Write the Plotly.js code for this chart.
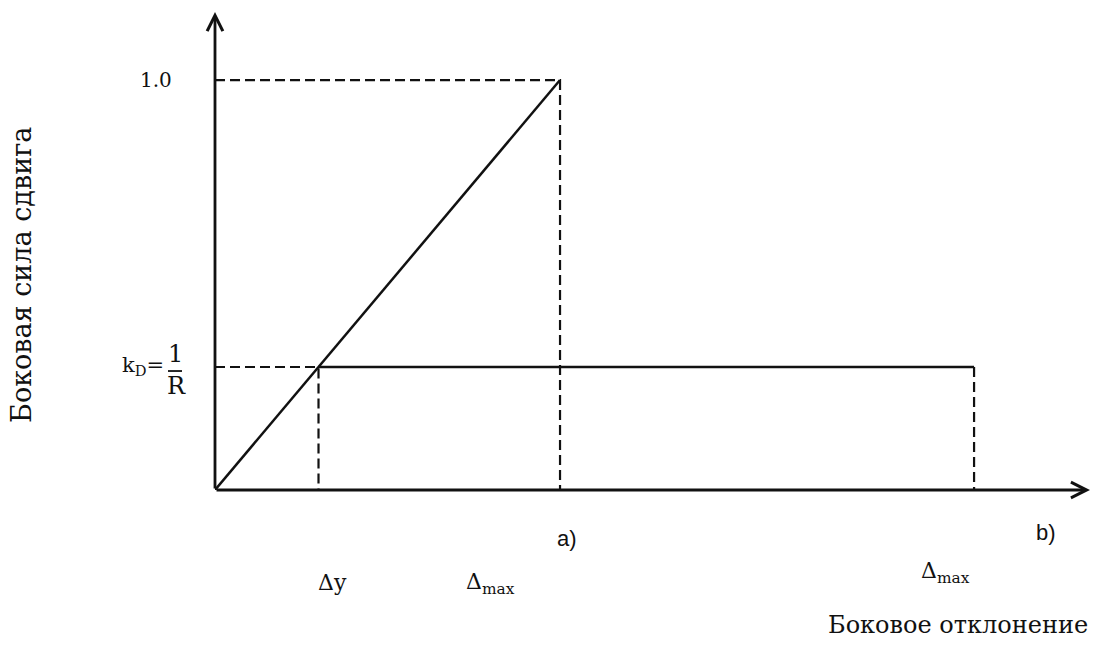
<!DOCTYPE html>
<html>
<head>
<meta charset="utf-8">
<script src="https://cdn.plot.ly/plotly-3.0.1.min.js"></script>
<style>
  html, body { margin: 0; padding: 0; background: #fff; }
  #chart { width: 1096px; height: 649px; }
</style>
</head>
<body>
<div id="chart"></div>
<script>
// lateral shear force vs lateral deflection, two characteristics a) and b)

// force levels (y): kD = 1/R and full force 1.0
const forceLevels = [0.3, 1.0];
// deflections (x): Δy, Δmax for a), Δmax for b)
const deflections = [0.3, 1.0, 2.2];
const deflLabels = ['Δy', 'Δ<sub>max</sub>', 'Δ<sub>max</sub>'];
const caseLabels = ['a)', 'b)'];

// characteristic a): linear rise up to Δmax
const curveAx = [0, 1.0];
const curveAy = [0, 1.0];
// characteristic b): constant force kD from Δy to Δmax
const curveBx = [0.3, 2.2];
const curveBy = [0.3, 0.3];

// axis extents (where the arrows end)
const xEnd = 2.536;
const yEnd = 1.166;

const serif = 'DejaVu Serif, Liberation Serif, serif';
const sans = 'Liberation Sans, Arial, sans-serif';
const ink = '#111';
const dashed = { color: ink, width: 2.2, dash: '10px,5px' };
const solid = { color: ink, width: 2.5 };

const [kD, fMax] = forceLevels;
const [dY, dMaxA, dMaxB] = deflections;

const traces = [
  // guides to 1.0 and to Δmax a)
  { x: [0, dMaxA, dMaxA], y: [fMax, fMax, 0], mode: 'lines', line: dashed },
  // guide along kD up to Δy and down to axis
  { x: [0, dY, dY], y: [kD, kD, 0], mode: 'lines', line: dashed },
  // drop from end of b) to axis
  { x: [dMaxB, dMaxB], y: [kD, 0], mode: 'lines', line: dashed },
  { x: curveAx, y: curveAy, mode: 'lines', line: solid },
  { x: curveBx, y: curveBy, mode: 'lines', line: solid }
];

const txt = (size, family) => ({ size, family: family || serif, color: ink });

const arrowAxis = (x, y) => ({
  x, y, ax: 0, ay: 0, axref: 'x', ayref: 'y', xref: 'x', yref: 'y',
  text: '', showarrow: true, arrowhead: 5, arrowsize: 1.1, arrowwidth: 2.8,
  arrowcolor: ink, standoff: 0
});

const annotations = [
  // axes with open arrowheads
  arrowAxis(xEnd, 0),
  arrowAxis(0, yEnd),
  // y levels
  { x: 0, y: fMax, xref: 'x', yref: 'y', text: '1.0', showarrow: false,
    xanchor: 'right', xshift: -41, font: txt(20) },
  { x: 0, y: kD, xref: 'x', yref: 'y', text: 'k<sub>D</sub>=', showarrow: false,
    xanchor: 'right', xshift: -49, yshift: 1, font: txt(21) },
  { x: 0, y: kD, xref: 'x', yref: 'y', text: '1', showarrow: false,
    xshift: -40, yshift: 13, font: txt(24) },
  { x: 0, y: kD, xref: 'x', yref: 'y', text: 'R', showarrow: false,
    xshift: -39, yshift: -19, font: txt(24) },
  // deflection labels
  { x: dY, y: 0, xref: 'x', yref: 'y', text: deflLabels[0], showarrow: false,
    xshift: 14, yshift: -92, font: txt(22) },
  { x: dMaxA, y: 0, xref: 'x', yref: 'y', text: deflLabels[1], showarrow: false,
    xshift: -70, yshift: -93, font: txt(22) },
  { x: dMaxB, y: 0, xref: 'x', yref: 'y', text: deflLabels[2], showarrow: false,
    xshift: -29, yshift: -82, font: txt(22) },
  // case labels
  { x: dMaxA, y: 0, xref: 'x', yref: 'y', text: caseLabels[0], showarrow: false,
    xshift: 7, yshift: -48, font: txt(22, sans) },
  { x: dMaxB, y: 0, xref: 'x', yref: 'y', text: caseLabels[1], showarrow: false,
    xshift: 72, yshift: -42, font: txt(22, sans) },
  // axis titles
  { x: 0, y: 0.45, xref: 'paper', yref: 'paper', text: 'Боковая сила сдвига', showarrow: false,
    textangle: -90, xanchor: 'center', yanchor: 'middle', xshift: -193, font: txt(27) },
  { x: 0.849, y: 0, xref: 'paper', yref: 'y', text: 'Боковое отклонение', showarrow: false,
    xanchor: 'center', yshift: -135, font: txt(24) }
];

// fraction bar of 1/R (paper refs so it is not clipped to the plot area)
const shapes = [
  { type: 'line', xref: 'paper', yref: 'paper', xsizemode: 'pixel',
    xanchor: 0, x0: -47, x1: -33, y0: kD / yEnd - 4 / 478, y1: kD / yEnd - 4 / 478,
    line: { color: ink, width: 1.8 } }
];

const layout = {
  width: 1096,
  height: 649,
  margin: { l: 215, r: 6, t: 12, b: 159 },
  paper_bgcolor: '#fff',
  plot_bgcolor: '#fff',
  showlegend: false,
  xaxis: { range: [0, xEnd], visible: false, fixedrange: true },
  yaxis: { range: [0, yEnd], visible: false, fixedrange: true },
  annotations,
  shapes
};

Plotly.newPlot('chart', traces, layout, { displayModeBar: false, staticPlot: true });
</script>
</body>
</html>
